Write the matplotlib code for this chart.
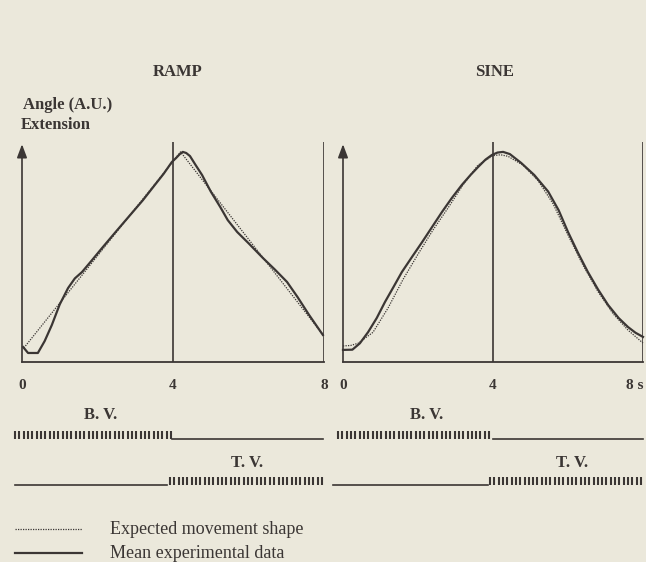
import matplotlib
matplotlib.use("Agg")
import matplotlib.pyplot as plt
import numpy as np
from matplotlib.lines import Line2D

# ---- data (time in s, angle in arbitrary units) ----
ramp_t_expected = [0.05, 4.2, 8.0]
ramp_y_expected = [0.064, 0.955, 0.118]

ramp_t_mean = [0.03, 0.16, 0.42, 0.6, 0.79, 1.0, 1.22, 1.4, 1.59, 1.85, 2.12, 2.5, 2.91, 3.2,
               3.52, 3.75, 3.97, 4.08, 4.18, 4.26, 4.35, 4.45, 4.6, 4.77, 5.0, 5.25, 5.45,
               5.70, 6.0, 6.38, 6.7, 7.02, 7.3, 7.6, 7.97]
ramp_y_mean = [0.068, 0.041, 0.041, 0.095, 0.168, 0.262, 0.336, 0.38, 0.409, 0.462, 0.518,
               0.595, 0.677, 0.735, 0.805, 0.855, 0.909, 0.927, 0.945, 0.955, 0.95, 0.936,
               0.895, 0.850, 0.775, 0.705, 0.645, 0.591, 0.54, 0.473, 0.42, 0.364, 0.295,
               0.215, 0.123]

sine_t_expected = [0.0, 0.2, 0.4, 0.8, 1.2, 1.6, 2.0, 2.4, 2.8, 3.2, 3.6, 4.0, 4.2,
                   4.4, 4.8, 5.2, 5.6, 6.0, 6.4, 6.8, 7.2, 7.6, 8.0]
sine_y_expected = [0.073, 0.075, 0.085, 0.135, 0.245, 0.375, 0.49, 0.60, 0.70, 0.805, 0.895,
                   0.938, 0.942, 0.935, 0.895, 0.825, 0.72, 0.577, 0.44, 0.32, 0.22, 0.145,
                   0.086]

sine_t_mean = [0.0, 0.25, 0.45, 0.67, 0.9, 1.12, 1.35, 1.57, 1.85, 2.11, 2.4, 2.64, 2.9,
               3.17, 3.4, 3.6, 3.8, 3.97, 4.12, 4.27, 4.45, 4.75, 5.1, 5.47, 5.75, 6.0,
               6.27, 6.53, 6.8, 7.07, 7.35, 7.6, 7.8, 8.0]
sine_y_mean = [0.055, 0.056, 0.085, 0.136, 0.20, 0.273, 0.342, 0.409, 0.48, 0.545, 0.62,
               0.682, 0.745, 0.805, 0.85, 0.886, 0.92, 0.941, 0.952, 0.955, 0.945, 0.905,
               0.85, 0.775, 0.69, 0.591, 0.495, 0.409, 0.33, 0.259, 0.20, 0.159, 0.133,
               0.114]

tick_pos = [0, 4, 8]
ramp_tick_labels = ['0', '4', '8']
sine_tick_labels = ['0', '4', '8 s']

# vibration trains: (start, end) of the burst on each vibrator, and the silent stretch
ramp_bv_on = (-0.19, 3.97)
ramp_tv_on = (3.92, 7.97)
sine_bv_on = (-0.13, 4.0)
sine_tv_on = (3.92, 8.0)
ramp_bv_off = (3.97, 7.97)
ramp_tv_off = (-0.19, 3.84)
sine_bv_off = (4.0, 8.0)
sine_tv_off = (-0.27, 3.87)
pulse_period = 0.115

# ---- style ----
W, H = 646, 562
BG = '#ebe8db'
INK = '#3b3634'
plt.rcParams['font.family'] = ['Liberation Serif', 'DejaVu Serif']

fig = plt.figure(figsize=(W / 100, H / 100), dpi=100, facecolor=BG)


def px_rect(x0, x1, top, bottom):
    return [x0 / W, 1 - bottom / H, (x1 - x0) / W, (bottom - top) / H]


def draw_panel(ax, t_exp, y_exp, t_mean, y_mean, labels):
    ax.set_facecolor('none')
    ax.set_xlim(0, 8)
    ax.set_ylim(0, 1.1)
    for s in ['left', 'top', 'right']:
        ax.spines[s].set_visible(False)
    ax.spines['bottom'].set_color(INK)
    ax.spines['bottom'].set_linewidth(1.3)
    ax.set_yticks([])
    ax.set_xticks(tick_pos)
    ax.set_xticklabels(labels, fontsize=11, fontweight='bold', color=INK)
    ax.tick_params(axis='x', length=0, pad=12)
    if labels[-1].endswith('s'):
        ax.get_xticklabels()[-1].set_horizontalalignment('right')
    ax.vlines([4, 8], 0, 1.0, color=INK, lw=1.2)
    ax.annotate('', xy=(0, 0.99), xytext=(0, 0),
                arrowprops=dict(arrowstyle='-|>,head_length=0.8,head_width=0.3',
                                color=INK, lw=1.2, mutation_scale=10, shrinkA=0, shrinkB=0))
    ax.plot(t_exp, y_exp, color=INK, lw=0.9, ls=(0, (1, 1)), clip_on=False)
    ax.plot(t_mean, y_mean, color=INK, lw=1.6, clip_on=False, solid_joinstyle='round')


def draw_train(ax, on_span, off_span, base, height):
    pulses = np.arange(on_span[0], on_span[1], pulse_period)
    ax.vlines(pulses, base, base + height, color=INK, lw=1.5, clip_on=False)
    ax.plot(list(off_span), [base, base], color=INK, lw=1.2, clip_on=False)


def draw_vibration(ax, bv_on, bv_off, tv_on, tv_off, bv_x, tv_x):
    ax.set_facecolor('none')
    ax.set_axis_off()
    ax.set_xlim(0, 8)
    ax.set_ylim(0, 1)
    draw_train(ax, bv_on, bv_off, 0.61, 0.08)
    draw_train(ax, tv_on, tv_off, 0.15, 0.08)
    ax.text(bv_x, 0.85, 'B. V.', ha='center', va='center', fontsize=12,
            fontweight='bold', color=INK)
    ax.text(tv_x, 0.37, 'T. V.', ha='center', va='center', fontsize=12,
            fontweight='bold', color=INK)


ax_ramp = fig.add_axes(px_rect(22, 324, 120, 362))
ax_sine = fig.add_axes(px_rect(343, 643, 120, 362))
draw_panel(ax_ramp, ramp_t_expected, ramp_y_expected, ramp_t_mean, ramp_y_mean, ramp_tick_labels)
draw_panel(ax_sine, sine_t_expected, sine_y_expected, sine_t_mean, sine_y_mean, sine_tick_labels)

vib_ramp = fig.add_axes(px_rect(22, 324, 400, 500))
vib_sine = fig.add_axes(px_rect(343, 643, 400, 500))
draw_vibration(vib_ramp, ramp_bv_on, ramp_bv_off, ramp_tv_on, ramp_tv_off, 2.07, 5.96)
draw_vibration(vib_sine, sine_bv_on, sine_bv_off, sine_tv_on, sine_tv_off, 2.24, 6.1)

# titles and y label
fig.text(178 / W, 1 - 72 / H, 'RAMP', ha='center', va='center', fontsize=12, fontweight='bold', color=INK)
fig.text(495 / W, 1 - 72 / H, 'SINE', ha='center', va='center', fontsize=12, fontweight='bold', color=INK)
fig.text(23 / W, 1 - 105 / H, 'Angle (A.U.)', ha='left', va='center', fontsize=12, fontweight='bold', color=INK)
fig.text(21 / W, 1 - 125 / H, 'Extension', ha='left', va='center', fontsize=12, fontweight='bold', color=INK)

# hand-made legend
fig.add_artist(Line2D([15 / W, 82 / W], [1 - 529 / H, 1 - 529 / H], color=INK, lw=0.9, ls=(0, (1, 1))))
fig.add_artist(Line2D([15 / W, 82 / W], [1 - 553 / H, 1 - 553 / H], color=INK, lw=1.6))
fig.text(110 / W, 1 - 529 / H, 'Expected movement shape', ha='left', va='center', fontsize=13, color=INK)
fig.text(110 / W, 1 - 553 / H, 'Mean experimental data', ha='left', va='center', fontsize=13, color=INK)

fig.savefig('out.png', dpi=100, facecolor=BG)
